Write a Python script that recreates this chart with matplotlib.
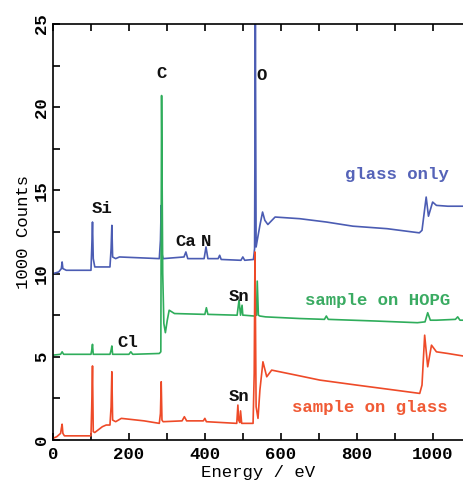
import matplotlib.pyplot as plt
from matplotlib.ticker import MultipleLocator

# spectra as (energy eV, 1000 counts) breakpoints
glass_e = [0, 15, 22, 24, 26, 35, 100, 102, 104, 106, 110, 150, 153, 155, 157, 165, 175,
           280, 283, 285, 287, 290, 345, 350, 355, 398, 403, 408, 435, 439, 443, 495, 500,
           505, 528, 531, 533, 535, 538, 545, 552, 558, 566, 585, 650, 720, 790, 880, 965,
           972, 983, 989, 1000, 1010, 1040, 1080]
glass_c = [10.0, 10.1, 10.3, 10.7, 10.3, 10.2, 10.2, 11.5, 13.1, 10.9, 10.4, 10.4, 11.5, 12.9,
           11.0, 10.9, 11.0, 10.9, 12.0, 14.1, 11.2, 10.9, 11.0, 11.3, 10.9, 10.9, 11.6, 10.9,
           10.9, 11.1, 10.85, 10.8, 11.0, 10.8, 10.85, 11.5, 25.5, 11.6, 12.0, 12.9, 13.7,
           13.2, 12.95, 13.4, 13.3, 13.1, 12.85, 12.7, 12.45, 12.6, 14.6, 13.45, 14.3, 14.1,
           14.05, 14.05]

hopg_e = [0, 20, 24, 28, 100, 102, 104, 106, 150, 153, 155, 157, 200, 205, 210, 280, 284,
          286, 289, 292, 296, 301, 306, 320, 400, 404, 408, 485, 490, 494, 498, 500, 503,
          530, 536, 538, 541, 545, 560, 650, 715, 720, 725, 850, 960, 980, 987, 994, 1010,
          1060, 1066, 1072, 1080]
hopg_c = [5.1, 5.15, 5.3, 5.15, 5.15, 5.4, 5.75, 5.15, 5.15, 5.4, 5.65, 5.15, 5.15, 5.3,
          5.15, 5.2, 5.3, 20.7, 10.0, 7.0, 6.45, 7.2, 7.8, 7.6, 7.55, 7.95, 7.55, 7.5, 8.4,
          7.5, 8.1, 7.5, 7.5, 7.45, 7.5, 9.55, 7.5, 7.45, 7.4, 7.3, 7.25, 7.45, 7.25, 7.15,
          7.05, 7.1, 7.65, 7.2, 7.2, 7.25, 7.4, 7.2, 7.2]

sample_e = [0, 10, 20, 22, 24, 26, 30, 100, 102, 104, 106, 110, 130, 140, 150, 153, 155,
            157, 165, 180, 240, 280, 283, 285, 287, 290, 340, 346, 352, 396, 400, 404, 484,
            487, 489, 492, 494, 497, 527, 530, 532, 535, 540, 545, 553, 563, 576, 640, 703,
            800, 900, 966, 972, 979, 987, 997, 1010, 1040, 1080]
sample_c = [0.1, 0.2, 0.4, 0.7, 0.95, 0.4, 0.25, 0.25, 2.0, 4.45, 0.5, 0.45, 0.8, 0.9, 0.9,
            2.0, 4.1, 1.2, 1.1, 1.3, 1.15, 1.0, 1.6, 3.5, 1.2, 1.1, 1.15, 1.4, 1.15, 1.15, 1.3,
            1.1, 1.0, 2.1, 1.2, 1.05, 1.75, 1.0, 1.0, 4.0, 11.3, 2.0, 1.3, 3.0, 4.7, 3.8, 4.2,
            3.9, 3.6, 3.3, 3.0, 2.8, 3.3, 6.3, 4.4, 5.7, 5.3, 5.2, 5.05]

peak_labels = ['C', 'O', 'Si', 'Ca', 'N', 'Sn', 'Cl', 'Sn']
peak_pos = [(285, 22.0), (550, 21.9), (130, 13.9), (350, 11.9), (403, 11.9),
            (490, 8.6), (198, 5.85), (490, 2.6)]
series_names = ['glass only', 'sample on HOPG', 'sample on glass']
name_pos = [(906, 15.95), (855, 8.4), (835, 1.95)]

line_cols = ['#4b5cb3', '#2fad5b', '#ee4a28']
text_cols = ['#5563b8', '#3aab62', '#f05a35']

plt.rcParams['font.family'] = ['Liberation Mono', 'DejaVu Sans Mono']
plt.rcParams['font.weight'] = 'bold'
plt.rcParams['font.size'] = 12.5

fig = plt.figure(figsize=(4.63, 4.84), dpi=100)
ax = fig.add_axes([0.1145, 0.0909, 0.8855, 0.8595])

for e, c, col in zip([glass_e, hopg_e, sample_e], [glass_c, hopg_c, sample_c], line_cols):
    ax.plot(e, c, color=col, lw=1.2)

for lab, (x, y) in zip(peak_labels, peak_pos):
    ax.text(x, y, lab, ha='center', va='center', color='#111111', fontweight='bold')
for name, (x, y), col in zip(series_names, name_pos, text_cols):
    ax.text(x, y, name, ha='center', va='center', color=col, fontweight='bold')

ax.set_xlim(0, 1080)
ax.set_ylim(0, 25)
ax.xaxis.set_major_locator(MultipleLocator(200))
ax.xaxis.set_minor_locator(MultipleLocator(100))
ax.yaxis.set_major_locator(MultipleLocator(5))
ax.yaxis.set_minor_locator(MultipleLocator(2.5))
ax.tick_params(which='both', direction='in', top=True, right=False, length=5, width=1.2)
ax.tick_params(axis='x', pad=5)
ax.tick_params(axis='y', pad=3)
for t in ax.get_yticklabels():
    t.set_rotation(90)
    t.set_va('center')
ax.spines['right'].set_visible(False)
for s in ['left', 'bottom', 'top']:
    ax.spines[s].set_linewidth(1.2)

ax.set_xlabel('Energy / eV', labelpad=2)
ax.set_ylabel('1000 Counts', labelpad=2)

fig.savefig('out.png', dpi=100)
